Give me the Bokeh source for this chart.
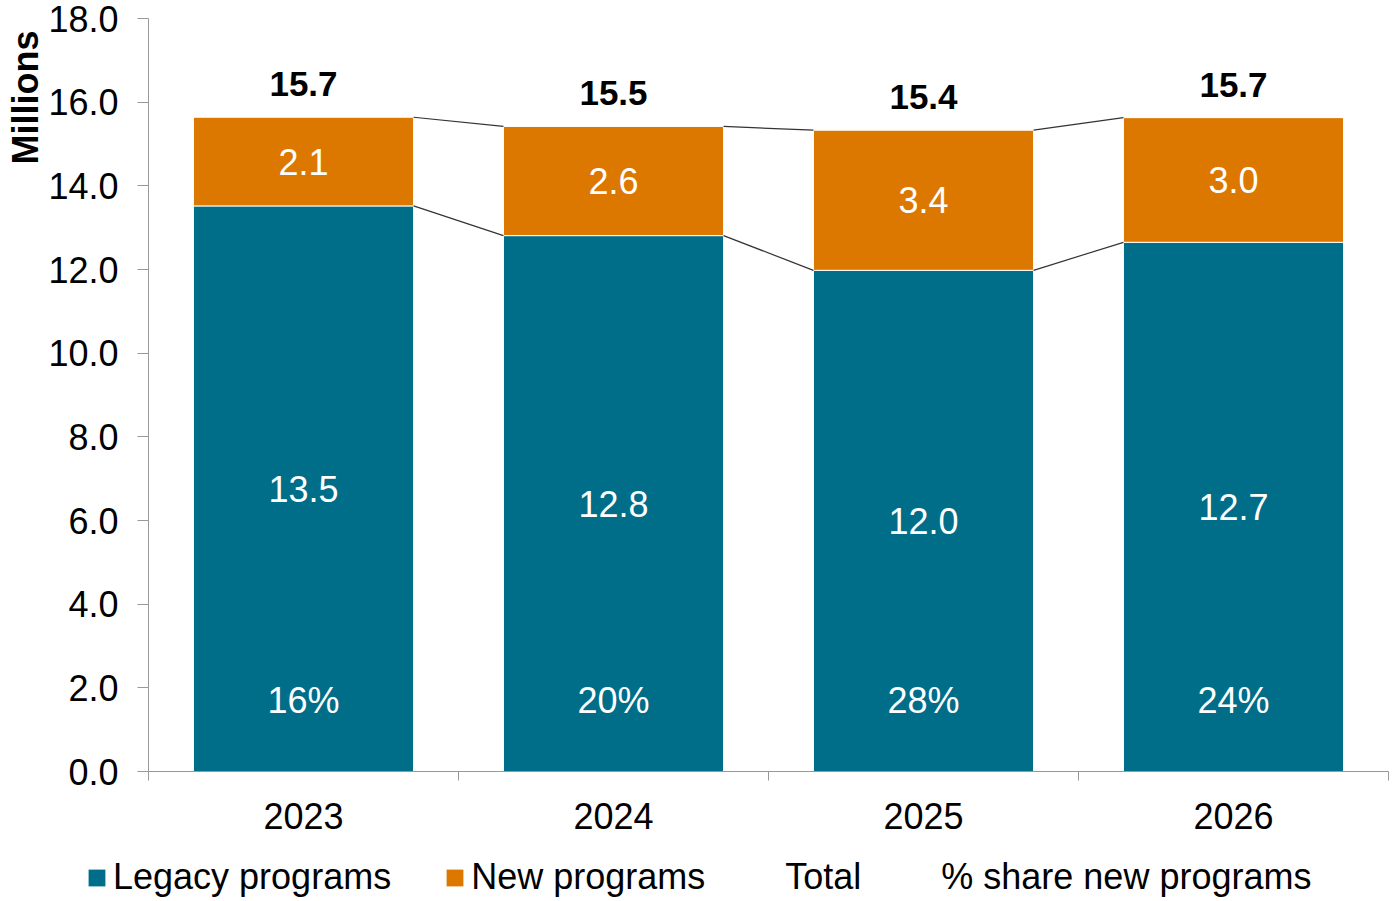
import math
from bokeh.plotting import figure
from bokeh.layouts import column
from bokeh.models import (ColumnDataSource, Range1d, FixedTicker, NumeralTickFormatter,
                          Legend, LegendItem, Title)
from bokeh.core.properties import value
from bokeh.embed import file_html
from bokeh.resources import INLINE

years = ["2023", "2024", "2025", "2026"]
legacy = [13.52, 12.81, 11.98, 12.65]
new_prog = [2.12, 2.61, 3.35, 2.98]
total_labels = [15.7, 15.5, 15.4, 15.7]
share_new = [16, 20, 28, 24]
y_ticks = [0, 2, 4, 6, 8, 10, 12, 14, 16, 18]
legend_labels = ["Legacy programs", "New programs", "Total", "% share new programs"]

TEAL = "#006E89"
ORANGE = "#DC7800"
FONT = "Liberation Sans"
FS = "36px"
BAR_W = 0.71
SHARE_Y = 1.7

xs = [i + 0.5 for i in range(len(years))]
tops = [l + n for l, n in zip(legacy, new_prog)]

src = ColumnDataSource(dict(
    x=xs, legacy=legacy, new=new_prog, top=tops,
    legacy_mid=[l / 2 for l in legacy],
    new_mid=[l + n / 2 for l, n in zip(legacy, new_prog)],
    legacy_txt=[f"{v:.1f}" for v in legacy],
    new_txt=[f"{v:.1f}" for v in new_prog],
    total_txt=[f"{v:.1f}" for v in total_labels],
    share_txt=[f"{v}%" for v in share_new],
    share_y=[SHARE_Y] * len(years),
))

p = figure(width=1392, height=840, output_backend="svg", toolbar_location=None,
           x_range=Range1d(0, len(years)), y_range=Range1d(0, 18),
           min_border_left=148, min_border_right=4, min_border_top=18, min_border_bottom=69)
p.frame_align = False
p.outline_line_color = None
p.xgrid.visible = False
p.ygrid.visible = False
p.background_fill_color = "white"

p.vbar(x="x", width=BAR_W, bottom=0, top="legacy", source=src,
       fill_color=TEAL, line_color="white", line_width=1)
p.vbar(x="x", width=BAR_W, bottom="legacy", top="top", source=src,
       fill_color=ORANGE, line_color="white", line_width=1)

# connector lines between bars
n = len(years)
seg_x0 = [xs[i] + BAR_W / 2 for i in range(n - 1)]
seg_x1 = [xs[i + 1] - BAR_W / 2 for i in range(n - 1)]
p.segment(x0=seg_x0 + seg_x0, x1=seg_x1 + seg_x1,
          y0=legacy[:-1] + tops[:-1], y1=legacy[1:] + tops[1:],
          line_color="#333333", line_width=1.2)

common = dict(text_font=value(FONT), text_font_size=FS, text_align="center")
p.text(x="x", y="legacy_mid", text="legacy_txt", source=src, text_color="white",
       text_baseline="middle", **common)
p.text(x="x", y="new_mid", text="new_txt", source=src, text_color="white",
       text_baseline="middle", **common)
p.text(x="x", y="share_y", text="share_txt", source=src, text_color="white",
       text_baseline="middle", **common)
p.text(x="x", y="top", text="total_txt", source=src, text_color="black",
       text_baseline="bottom", y_offset=-21, text_font_style="bold",
       text_font=value(FONT), text_font_size="35px", text_align="center")

# x axis
xa = p.xaxis[0]
xa.ticker = FixedTicker(ticks=xs, minor_ticks=list(range(n + 1)))
xa.major_label_overrides = {x: y for x, y in zip(xs, years)}
xa.major_tick_out = 0
xa.major_tick_in = 0
xa.minor_tick_out = 9
xa.minor_tick_in = 0
xa.minor_tick_line_color = "#999999"
xa.axis_line_color = "#999999"
xa.major_label_standoff = 22
xa.major_label_text_font = FONT
xa.major_label_text_font_size = FS
xa.major_label_text_color = "black"

ya = p.yaxis[0]
ya.ticker = FixedTicker(ticks=y_ticks)
ya.formatter = NumeralTickFormatter(format="0.0")
ya.major_tick_out = 11
ya.major_tick_in = 0
ya.minor_tick_out = 0
ya.minor_tick_in = 0
ya.major_tick_line_color = "#999999"
ya.axis_line_color = "#999999"
ya.major_label_standoff = 19
ya.major_label_text_font = FONT
ya.major_label_text_font_size = FS
ya.major_label_text_color = "black"

p.add_layout(Title(text="Millions", align="right", offset=12, standoff=0,
                   text_font=FONT, text_font_size=FS, text_font_style="bold",
                   text_color="black"), "left")

# legend in a strip below the chart
lg = figure(width=1392, height=58, output_backend="svg", toolbar_location=None,
            x_range=Range1d(0, 1), y_range=Range1d(0, 1),
            x_axis_location=None, y_axis_location=None,
            min_border_left=0, min_border_right=0, min_border_top=0, min_border_bottom=0)
lg.frame_align = False
lg.grid.visible = False
lg.outline_line_color = None
l1 = lg.vbar(x=[5], top=[5], bottom=[4], width=0.1, fill_color=TEAL, line_color=None)
l2 = lg.vbar(x=[5], top=[5], bottom=[4], width=0.1, fill_color=ORANGE, line_color=None)
l3 = lg.scatter(x=[5], y=[5], fill_alpha=0, line_alpha=0)
l4 = lg.scatter(x=[5], y=[5], fill_alpha=0, line_alpha=0)
legend = Legend(items=[LegendItem(label=t, renderers=[r])
                       for t, r in zip(legend_labels, [l1, l2, l3, l4])],
                orientation="horizontal", location=(86, 0),
                glyph_width=21, glyph_height=21, label_standoff=6, spacing=53,
                padding=0, margin=0, border_line_color=None, background_fill_alpha=0,
                label_text_font=FONT, label_text_font_size=FS, label_text_color="black",
                label_height=36)
lg.add_layout(legend, "center")

layout = column(p, lg, spacing=0)
open("out.html", "w").write(file_html(layout, INLINE))
